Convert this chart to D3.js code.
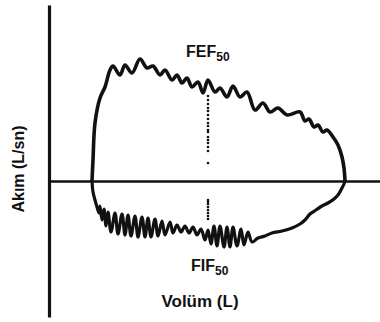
<!DOCTYPE html>
<html>
<head>
<meta charset="utf-8">
<script src="https://cdn.jsdelivr.net/npm/d3@7"></script>
<style>
  body { margin: 0; background: #fff; }
  svg { display: block; }
  text { font-family: "Liberation Sans", Arial, sans-serif; font-weight: bold; fill: #111; }
</style>
</head>
<body>
<svg id="chart"></svg>
<script>
/*** DATA (volume in L, flow in L/sn) ***/
// expiratory limb, left crossing -> right crossing
const expVolume = [0.86, 0.88, 0.92, 1.02, 1.12, 1.22, 1.28, 1.42, 1.52, 1.66, 1.82, 1.96, 2.08, 2.22, 2.32,
  2.46, 2.56, 2.66, 2.76, 2.86, 2.98, 3.08, 3.18, 3.32, 3.42, 3.56, 3.68, 3.82, 3.96, 4.12, 4.28, 4.42,
  4.58, 4.76, 5.02, 5.12, 5.2, 5.3, 5.38, 5.48, 5.56, 5.68, 5.78, 5.86, 5.9, 5.92];
const expFlow = [0, 1.05, 2.9, 4.15, 4.7, 5.55, 5.75, 5.3, 5.8, 5.4, 6.1, 5.65, 5.75, 5.3, 5.55,
  5.05, 5.3, 4.9, 5.15, 4.7, 4.95, 4.4, 5.05, 4.45, 4.65, 4.2, 4.75, 4.2, 4.45, 3.55, 3.9, 3.45,
  3.65, 3.3, 3.45, 3.0, 3.1, 2.7, 2.8, 2.45, 2.55, 2.2, 1.8, 1.2, 0.65, 0];

// inspiratory limb, left crossing -> right crossing
const insVolume = [0.86, 0.88, 0.92, 0.96, 1.0, 1.02, 1.06, 1.1, 1.14, 1.18, 1.24, 1.32, 1.38, 1.46, 1.52,
  1.58, 1.64, 1.72, 1.78, 1.86, 1.92, 1.98, 2.04, 2.12, 2.18, 2.26, 2.32, 2.42, 2.48, 2.56, 2.64, 2.72,
  2.8, 2.88, 2.96, 3.04, 3.12, 3.18, 3.24, 3.3, 3.36, 3.42, 3.5, 3.56, 3.62, 3.68, 3.76, 3.84, 3.9,
  3.98, 4.06, 4.18, 4.32, 4.46, 4.66, 4.86, 5.02, 5.12, 5.22, 5.34, 5.46, 5.58, 5.7, 5.78, 5.86, 5.9, 5.92];
const insFlow = [0, -0.55, -0.95, -1.3, -1.6, -1.25, -1.95, -1.4, -2.25, -1.55, -2.55, -1.6, -2.65, -1.65, -2.7,
  -1.7, -2.75, -1.75, -2.8, -1.8, -2.8, -1.85, -2.8, -1.9, -2.75, -2.0, -2.7, -2.05, -2.6, -2.2, -2.55, -2.25,
  -2.6, -2.3, -2.7, -2.4, -2.95, -2.45, -3.15, -2.25, -3.25, -2.25, -3.3, -2.3, -3.3, -2.3, -3.25, -2.4, -3.2,
  -2.55, -3.05, -2.85, -2.75, -2.6, -2.5, -2.35, -2.15, -1.95, -1.65, -1.45, -1.25, -1.1, -0.9, -0.7, -0.35, -0.15, 0];

// 50% volume marker dots
const midVolume = 3.18;
const midDotsUp = [4.25, 4.05, 3.85, 3.65, 3.5, 3.3, 3.1, 2.9, 2.75, 2.55, 2.45, 2.2, 2.05, 1.9, 1.7, 1.5, 0.9];
const midDotsDown = [-0.95, -1.05, -1.15, -1.3, -1.45, -1.6, -1.75, -1.9];

const labels = { xAxis: "Volüm (L)", yAxis: "Akım (L/sn)", upper: "FEF", lower: "FIF", sub: "50" };

/*** SETUP ***/
const WIDTH = 380;
const HEIGHT = 322;
const INK = "#111";

const svg = d3.select("#chart").attr("width", WIDTH).attr("height", HEIGHT);

const x = d3.scaleLinear().domain([0, 6.62]).range([49, 380]);
const y = d3.scaleLinear().domain([-6.8, 8.8]).range([317, 5]);

// axes: bare lines, no ticks
svg.append("g")
  .attr("transform", `translate(${x(0)},0)`)
  .call(d3.axisLeft(y).ticks(0).tickSizeOuter(0))
  .call(g => g.select(".domain").attr("stroke", INK).attr("stroke-width", 3.2));

svg.append("g")
  .attr("transform", `translate(0,${y(0)})`)
  .call(d3.axisBottom(x).ticks(0).tickSizeOuter(0))
  .call(g => g.select(".domain").attr("stroke", INK).attr("stroke-width", 2.6));

const line = d3.line()
  .x(d => x(d[0]))
  .y(d => y(d[1]))
  .curve(d3.curveCatmullRom.alpha(0.5));

svg.append("path")
  .datum(d3.zip(expVolume, expFlow))
  .attr("fill", "none")
  .attr("stroke", INK)
  .attr("stroke-width", 3.6)
  .attr("stroke-linejoin", "round")
  .attr("d", line);

svg.append("path")
  .datum(d3.zip(insVolume, insFlow))
  .attr("fill", "none")
  .attr("stroke", INK)
  .attr("stroke-width", 3.2)
  .attr("stroke-linejoin", "round")
  .attr("d", line);

// dotted 50% marker
svg.append("g")
  .selectAll("circle")
  .data(midDotsUp.concat(midDotsDown))
  .join("circle")
  .attr("cx", x(midVolume))
  .attr("cy", d => y(d))
  .attr("r", 1.3)
  .attr("fill", INK);

/*** LABELS ***/
function subLabel(txt, px, py) {
  const t = svg.append("text").attr("x", px).attr("y", py).style("font-size", "16px");
  t.append("tspan").text(txt);
  t.append("tspan").attr("dy", 4).style("font-size", "12px").text(labels.sub);
}
subLabel(labels.upper, 186, 57);
subLabel(labels.lower, 191, 271);

svg.append("text")
  .attr("x", 200)
  .attr("y", 307)
  .attr("text-anchor", "middle")
  .style("font-size", "17px")
  .text(labels.xAxis);

svg.append("text")
  .attr("transform", `translate(24,169) rotate(-90)`)
  .attr("text-anchor", "middle")
  .style("font-size", "16px")
  .text(labels.yAxis);
</script>
</body>
</html>
